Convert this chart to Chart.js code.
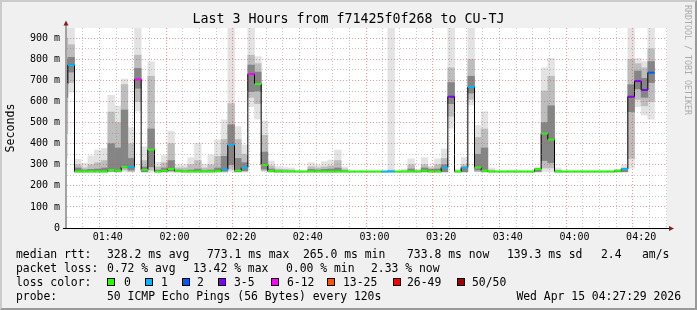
<!DOCTYPE html>
<html>
<head>
<meta charset="utf-8">
<title>Last 3 Hours from f71425f0f268 to CU-TJ</title>
<script src="https://cdn.jsdelivr.net/npm/chart.js@4.4.1/dist/chart.umd.min.js"></script>
<style>
    html, body { margin: 0; padding: 0; background: #f0f0f0; }
    #graph { position: relative; width: 697px; height: 310px; overflow: hidden;
             font-family: 'DejaVu Sans Mono', monospace; color: #000; }
    #graph canvas { position: absolute; left: 0; top: 0; }
    .frame { position: absolute; left: 0; top: 0; width: 697px; height: 310px; box-sizing: border-box;
             border: 2px solid; border-color: #cbcbcb #999 #999 #cbcbcb; pointer-events: none; }
    .title { position: absolute; left: 0; top: 11px; width: 697px; text-align: center;
             font-size: 13.3px; line-height: 16px; white-space: pre; }
    .stamp { position: absolute; left: 684px; top: 5px; writing-mode: vertical-rl;
             font-size: 8.3px; line-height: 8px; color: #aaa; white-space: pre; }
    .t { position: absolute; font-size: 11.4px; line-height: 14px; white-space: pre; }
    .sw { position: absolute; top: 278px; width: 6px; height: 6px; border: 1px solid #000; }
</style>
</head>
<body>
<div id="graph">
    <canvas id="smoke" width="697" height="310"></canvas>
    <div class="title">Last 3 Hours from f71425f0f268 to CU-TJ</div>
    <div class="stamp">RRDTOOL / TOBI OETIKER</div>

    <div class="t" style="left:16px;top:247px">median rtt:</div>
    <div class="t" style="left:107px;top:247px">328.2 ms avg</div>
    <div class="t" style="left:207px;top:247px">773.1 ms max</div>
    <div class="t" style="left:303px;top:247px">265.0 ms min</div>
    <div class="t" style="left:407px;top:247px">733.8 ms now</div>
    <div class="t" style="left:507px;top:247px">139.3 ms sd</div>
    <div class="t" style="left:601px;top:247px">2.4</div>
    <div class="t" style="left:642px;top:247px">am/s</div>

    <div class="t" style="left:16px;top:261px">packet loss:</div>
    <div class="t" style="left:107px;top:261px">0.72 % avg</div>
    <div class="t" style="left:193px;top:261px">13.42 % max</div>
    <div class="t" style="left:286px;top:261px">0.00 % min</div>
    <div class="t" style="left:371px;top:261px">2.33 % now</div>

    <div class="t" style="left:16px;top:275px">loss color:</div>
    <div class="sw" style="left:107px;background:#26ff00"></div>
    <div class="t" style="left:124px;top:275px">0</div>
    <div class="sw" style="left:145px;background:#00b8ff"></div>
    <div class="t" style="left:161px;top:275px">1</div>
    <div class="sw" style="left:182px;background:#0059ff"></div>
    <div class="t" style="left:197px;top:275px">2</div>
    <div class="sw" style="left:218px;background:#7e00ff"></div>
    <div class="t" style="left:234px;top:275px">3-5</div>
    <div class="sw" style="left:271px;background:#ff00ff"></div>
    <div class="t" style="left:287px;top:275px">6-12</div>
    <div class="sw" style="left:327px;background:#ff5500"></div>
    <div class="t" style="left:343px;top:275px">13-25</div>
    <div class="sw" style="left:393px;background:#ff0000"></div>
    <div class="t" style="left:407px;top:275px">26-49</div>
    <div class="sw" style="left:457px;background:#a10000"></div>
    <div class="t" style="left:472px;top:275px">50/50</div>

    <div class="t" style="left:16px;top:289px">probe:</div>
    <div class="t" style="left:107px;top:289px">50 ICMP Echo Pings (56 Bytes) every 120s</div>
    <div class="t" style="right:16px;top:289px">Wed Apr 15 04:27:29 2026</div>

    <div class="frame"></div>
</div>
<script>
// one sample every 2 minutes, the first runs 01:26-01:28 (only a sliver of it is on the plot)
const sampleStart = 86;  // minutes after midnight
const sampleStep = 2;

// median rtt per sample, ms
const medianRtt = [
    683, 773, 268, 268, 268, 268, 268, 275, 272, 290,
    290, 705, 276, 372, 268, 272, 280, 270, 268, 268,
    268, 268, 268, 270, 277, 394, 272, 287, 730, 683,
    299, 271, 268, 268, 268, 268, 268, 268, 268, 268,
    268, 268, 268, 268, 268, 268, 268, 268, 268, 268,
    268, 268, 268, 268, 272, 268, 268, 287, 623, 268,
    287, 669, 287, 272, 268, 268, 268, 268, 268, 268,
    268, 279, 448, 419, 268, 268, 268, 268, 268, 268,
    268, 268, 268, 272, 280, 623, 697, 655, 737
];
// lost pings out of 50
const lossCount = [
    1, 1, 0, 0, 0, 0, 0, 0, 0, 0,
    1, 6, 0, 0, 0, 0, 0, 0, 0, 0,
    0, 0, 0, 0, 1, 1, 0, 1, 6, 0,
    0, 0, 0, 0, 0, 0, 0, 0, 0, 0,
    0, 0, 0, 0, 0, 0, 0, 0, 1, 1,
    0, 0, 0, 0, 0, 0, 0, 1, 3, 0,
    1, 1, 0, 0, 0, 0, 0, 0, 0, 0,
    0, 0, 0, 0, 0, 0, 0, 0, 0, 0,
    0, 0, 0, 0, 1, 3, 3, 3, 2
];
// smoke: spread of the 50 pings, ms
const smokeMin = [
    330, 645, 265, 265, 265, 265, 265, 265, 265, 268,
    266, 555, 265, 265, 265, 265, 266, 265, 265, 265,
    265, 265, 265, 265, 265, 268, 265, 265, 576, 517,
    268, 265, 265, 265, 265, 265, 265, 265, 265, 265,
    265, 265, 265, 265, 265, 265, 265, 265, 265, 265,
    265, 265, 265, 265, 265, 265, 265, 265, 473, 265,
    265, 584, 266, 265, 265, 265, 265, 265, 265, 265,
    265, 266, 268, 268, 265, 265, 265, 265, 265, 265,
    265, 265, 265, 265, 266, 284, 576, 536, 516
];
const smokeP10 = [
    450, 690, 266, 266, 266, 266, 266, 267, 266, 275,
    268, 600, 266, 275, 266, 266, 266, 266, 266, 266,
    266, 266, 266, 266, 266, 280, 266, 268, 620, 590,
    272, 266, 266, 266, 266, 266, 266, 266, 266, 266,
    266, 266, 266, 266, 266, 266, 266, 266, 266, 266,
    266, 266, 266, 266, 266, 266, 266, 266, 530, 266,
    266, 610, 268, 266, 266, 266, 266, 266, 266, 266,
    266, 266, 285, 285, 266, 266, 266, 266, 266, 266,
    266, 266, 266, 266, 266, 330, 610, 580, 600
];
const smokeP25 = [
    620, 740, 267, 267, 267, 267, 267, 270, 268, 285,
    275, 663, 267, 290, 267, 267, 272, 267, 267, 267,
    267, 267, 267, 267, 270, 300, 267, 272, 647, 650,
    280, 267, 267, 267, 267, 267, 267, 267, 267, 267,
    267, 267, 267, 267, 267, 267, 267, 267, 267, 267,
    267, 267, 267, 267, 267, 267, 267, 267, 590, 267,
    267, 640, 275, 270, 267, 267, 267, 267, 267, 267,
    267, 268, 320, 310, 267, 267, 267, 267, 267, 267,
    267, 267, 267, 267, 267, 552, 660, 620, 690
];
const smokeP75 = [
    800, 810, 285, 275, 278, 280, 285, 400, 380, 560,
    330, 757, 290, 470, 275, 285, 320, 275, 272, 275,
    280, 272, 275, 285, 340, 490, 330, 310, 773, 740,
    360, 280, 272, 270, 270, 268, 268, 278, 275, 278,
    280, 285, 272, 268, 268, 268, 268, 268, 268, 270,
    268, 269, 280, 270, 285, 278, 280, 300, 690, 268,
    285, 720, 350, 380, 270, 268, 268, 268, 268, 268,
    268, 275, 500, 580, 270, 268, 268, 268, 268, 268,
    268, 268, 268, 270, 275, 680, 745, 710, 790
];
const smokeP90 = [
    900, 870, 300, 285, 300, 310, 320, 550, 500, 680,
    400, 820, 320, 720, 290, 310, 400, 285, 285, 300,
    320, 285, 300, 340, 420, 590, 420, 350, 820, 780,
    440, 295, 280, 278, 276, 270, 269, 290, 285, 290,
    295, 320, 280, 268, 268, 268, 268, 268, 268, 275,
    268, 272, 300, 272, 300, 285, 300, 330, 760, 272,
    300, 800, 430, 470, 275, 268, 268, 268, 268, 268,
    268, 282, 650, 720, 275, 268, 268, 268, 268, 268,
    268, 268, 268, 274, 285, 800, 780, 760, 850
];
const smokeMax = [
    990, 990, 326, 307, 342, 370, 378, 630, 579, 707,
    476, 990, 386, 789, 312, 344, 460, 300, 300, 334,
    402, 303, 347, 418, 513, 990, 481, 394, 990, 813,
    508, 318, 292, 287, 285, 275, 272, 310, 299, 315,
    323, 370, 290, 270, 270, 270, 270, 270, 270, 990,
    270, 280, 328, 280, 334, 292, 328, 375, 990, 280,
    334, 990, 486, 552, 285, 272, 272, 275, 275, 272,
    272, 290, 760, 805, 285, 272, 272, 272, 272, 272,
    272, 272, 272, 280, 300, 990, 805, 790, 990
];

const lossBands = [0, 1, 2, 3, 6, 13, 26, 50];
const lossColors = ['#26ff00', '#00b8ff', '#0059ff', '#7e00ff', '#ff00ff', '#ff5500', '#ff0000', '#a10000'];

// time axis in minutes after midnight, 01:27:45 .. 04:27:45
const xMin = 87.75;
const xMax = 267.75;
const majorMinutes = [100, 120, 140, 160, 180, 200, 220, 240, 260];
const xTickLabels = ['01:40', '02:00', '02:20', '02:40', '03:00', '03:20', '03:40', '04:00', '04:20'];
const yMax = 949;
const yTickValues = [0, 100, 200, 300, 400, 500, 600, 700, 800, 900];
const yTickLabels = ['0', '100 m', '200 m', '300 m', '400 m', '500 m', '600 m', '700 m', '800 m', '900 m'];

const times = medianRtt.map((_, i) => sampleStart + sampleStep * i + sampleStep / 2);
const minorGrid = 'rgba(130,130,130,0.45)';
const majorGrid = 'rgba(205,65,65,0.5)';

function lossColor(n) {
    let c = lossColors[0];
    lossBands.forEach((b, i) => { if (n >= b) c = lossColors[i]; });
    return c;
}

function band(lo, hi) {
    return times.map((t, i) => ({ x: t, y: [lo[i], hi[i]] }));
}

function halfStep(chart) {
    const x = chart.scales.x;
    return (x.getPixelForValue(sampleStep) - x.getPixelForValue(0)) / 2;
}

const medianPoints = times.map((t, i) => ({ x: t, y: medianRtt[i] }));

// white canvas behind the plot, rrdtool style axes with little arrows
const rrdFrame = {
    id: 'rrdFrame',
    beforeDraw(chart) {
        const { ctx, chartArea: a } = chart;
        ctx.save();
        ctx.fillStyle = '#ffffff';
        ctx.fillRect(a.left, a.top, a.right - a.left, a.bottom - a.top);
        ctx.restore();
    },
    afterDraw(chart) {
        const { ctx, chartArea: a } = chart;
        ctx.save();
        ctx.lineWidth = 1;
        ctx.strokeStyle = '#555';
        ctx.beginPath();
        ctx.moveTo(a.left - 1, a.bottom + 1);
        ctx.lineTo(a.left - 1, a.top - 4);
        ctx.stroke();
        ctx.strokeStyle = '#000';
        ctx.beginPath();
        ctx.moveTo(a.left - 4, a.bottom + 0.5);
        ctx.lineTo(a.right + 3, a.bottom + 0.5);
        ctx.stroke();
        ctx.fillStyle = '#8b1c1c';
        ctx.beginPath();
        ctx.moveTo(a.left - 3.5, a.top - 2.5);
        ctx.lineTo(a.left + 1.5, a.top - 2.5);
        ctx.lineTo(a.left - 1, a.top - 7.5);
        ctx.closePath();
        ctx.fill();
        ctx.beginPath();
        ctx.moveTo(a.right + 2, a.bottom - 2);
        ctx.lineTo(a.right + 2, a.bottom + 3);
        ctx.lineTo(a.right + 7, a.bottom + 0.5);
        ctx.closePath();
        ctx.fill();
        ctx.restore();
    }
};

Chart.defaults.font.family = "'DejaVu Sans Mono', monospace";

const barDefaults = { type: 'bar', barPercentage: 1, categoryPercentage: 1, grouped: false, borderWidth: 0, clip: 0 };

new Chart(document.getElementById('smoke'), {
    type: 'bar',
    data: {
        datasets: [
            { ...barDefaults, data: band(smokeMin, smokeMax), backgroundColor: '#e3e3e3', order: 5 },
            { ...barDefaults, data: band(smokeP10, smokeP90), backgroundColor: '#bdbdbd', order: 4 },
            { ...barDefaults, data: band(smokeP25, smokeP75), backgroundColor: '#858585', order: 3 },
            {
                type: 'line', data: medianPoints, stepped: 'middle', borderColor: '#000', borderWidth: 1,
                pointRadius: 0, clip: 0, order: 2
            },
            {
                type: 'line', data: medianPoints, showLine: false, pointStyle: 'line', clip: 0, order: 1,
                pointRadius: ctx => halfStep(ctx.chart),
                pointBorderWidth: 2,
                pointBorderColor: ctx => lossColor(lossCount[ctx.dataIndex]),
                pointBackgroundColor: ctx => lossColor(lossCount[ctx.dataIndex])
            }
        ]
    },
    options: {
        responsive: false,
        animation: false,
        events: [],
        layout: { padding: { top: 28, right: 30, bottom: 60, left: 0 } },
        plugins: { legend: { display: false }, tooltip: { enabled: false } },
        scales: {
            x: {
                type: 'linear', min: xMin, max: xMax, offset: false,
                afterFit: s => { s.height = 22; },
                afterBuildTicks: s => {
                    const ticks = [];
                    for (let m = 90; m < xMax; m += 5) ticks.push({ value: m });
                    s.ticks = ticks;
                },
                grid: {
                    z: 1, drawTicks: false, lineWidth: 1,
                    color: c => (c.tick && majorMinutes.includes(c.tick.value)) ? majorGrid : minorGrid
                },
                border: { display: false, dash: [1, 2] },
                ticks: {
                    autoSkip: false, maxRotation: 0, padding: 3, color: '#000', font: { size: 10 },
                    callback: v => majorMinutes.includes(v) ? xTickLabels[majorMinutes.indexOf(v)] : ''
                }
            },
            y: {
                min: 0, max: yMax,
                afterFit: s => { s.width = 67; },
                afterBuildTicks: s => {
                    const ticks = [];
                    for (let v = 0; v <= 900; v += 50) ticks.push({ value: v });
                    s.ticks = ticks;
                },
                grid: {
                    z: 1, drawTicks: false, lineWidth: 1,
                    color: c => (c.tick && c.tick.value % 100 === 0) ? majorGrid : minorGrid
                },
                border: { display: false, dash: [1, 2] },
                ticks: {
                    autoSkip: false, padding: 7, color: '#000', font: { size: 10 },
                    callback: v => yTickValues.includes(v) ? yTickLabels[yTickValues.indexOf(v)] : ''
                },
                title: {
                    display: true, text: 'Seconds', color: '#000',
                    font: { size: 11.6 }, padding: { top: 4, bottom: 0 }
                }
            }
        }
    },
    plugins: [rrdFrame]
});
</script>
</body>
</html>
